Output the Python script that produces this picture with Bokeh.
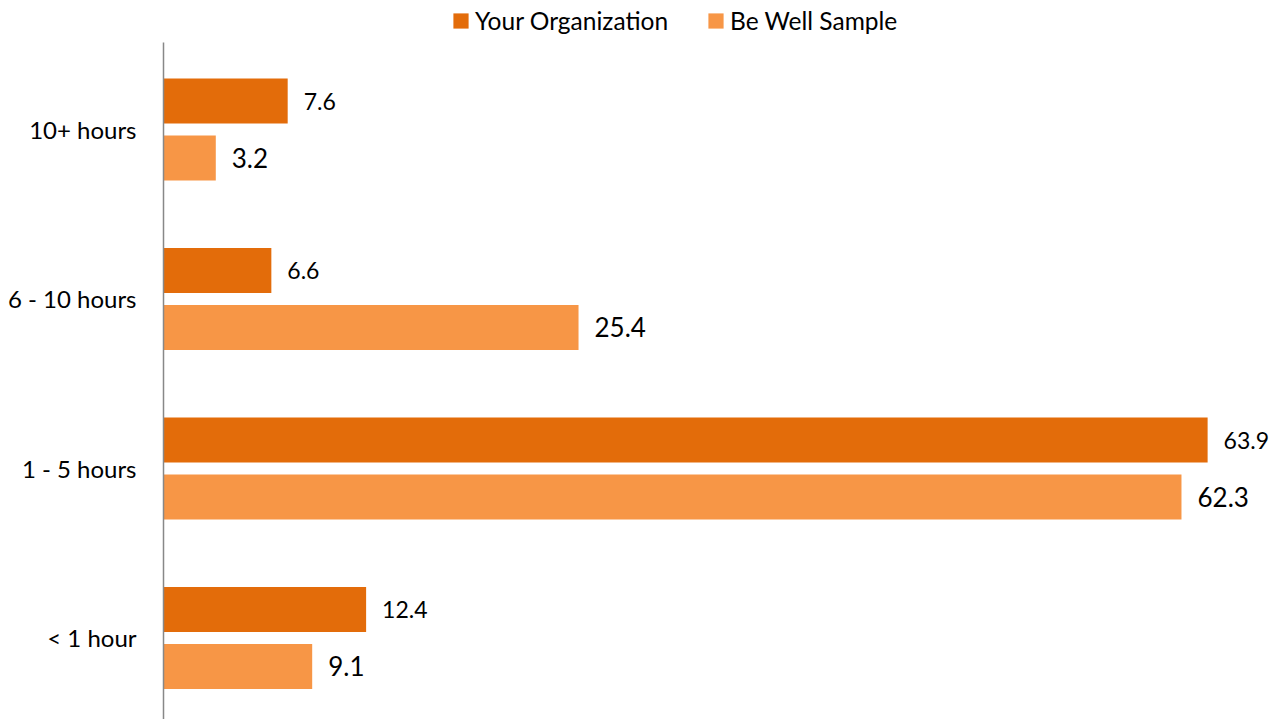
from bokeh.plotting import figure
from bokeh.models import ColumnDataSource, FixedTicker, Legend, LegendItem, Range1d
from bokeh.transform import dodge
from bokeh.core.properties import value
from bokeh.embed import file_html
from bokeh.resources import INLINE

categories = ["< 1 hour", "1 - 5 hours", "6 - 10 hours", "10+ hours"]
your_org = [12.4, 63.9, 6.6, 7.6]
be_well = [9.1, 62.3, 25.4, 3.2]
series_names = ["Your Organization", "Be Well Sample"]
colors = ["#E36C0A", "#F79646"]

FONT = "Lato"
pos = list(range(len(categories)))

src = ColumnDataSource(dict(
    y=pos,
    org=your_org,
    bw=be_well,
    org_lbl=[f"{v:.1f}" for v in your_org],
    bw_lbl=[f"{v:.1f}" for v in be_well],
))

Y0, Y1 = -0.481, 3.761
p = figure(width=1280, height=719, output_backend="svg", toolbar_location=None,
           x_range=Range1d(0, 68.36), y_range=Range1d(Y0, Y1),
           min_border_left=163, min_border_right=0, min_border_bottom=0, min_border_top=0)

off = 0.168
h = 0.266
r1 = p.hbar(y=dodge("y", off), right="org", left=0, height=h, source=src,
            fill_color=colors[0], line_color=None)
r2 = p.hbar(y=dodge("y", -off), right="bw", left=0, height=h, source=src,
            fill_color=colors[1], line_color=None)

p.text(x="org", y=dodge("y", off), text="org_lbl", source=src, x_offset=16,
       text_baseline="middle", text_font=value(FONT), text_font_size="23px",
       text_color="#000000")
p.text(x="bw", y=dodge("y", -off), text="bw_lbl", source=src, x_offset=16,
       text_baseline="middle", text_font=value(FONT), text_font_size="26px",
       text_color="#000000")

p.xaxis.visible = False
p.xgrid.visible = False
p.ygrid.visible = False
p.outline_line_color = None

ya = p.yaxis[0]
ya.bounds = (Y0, 3.513)
ya.ticker = FixedTicker(ticks=pos)
ya.major_label_overrides = {i: c for i, c in enumerate(categories)}
ya.major_tick_line_color = None
ya.minor_tick_line_color = None
ya.axis_line_color = "#888888"
ya.axis_line_width = 1.5
ya.major_label_standoff = 21
ya.major_label_text_font = FONT
ya.major_label_text_font_size = "24px"
ya.major_label_text_color = "#000000"

legend = Legend(items=[LegendItem(label=series_names[0], renderers=[r1]),
                       LegendItem(label=series_names[1], renderers=[r2])],
                orientation="horizontal", location=(288, 684),
                glyph_width=19, glyph_height=19, label_standoff=5, spacing=38,
                padding=5, margin=0, border_line_color=None,
                background_fill_alpha=0,
                label_text_font=FONT, label_text_font_size="24.5px",
                label_text_color="#000000", label_height=24)
p.add_layout(legend)

open("out.html", "w").write(file_html(p, INLINE))
